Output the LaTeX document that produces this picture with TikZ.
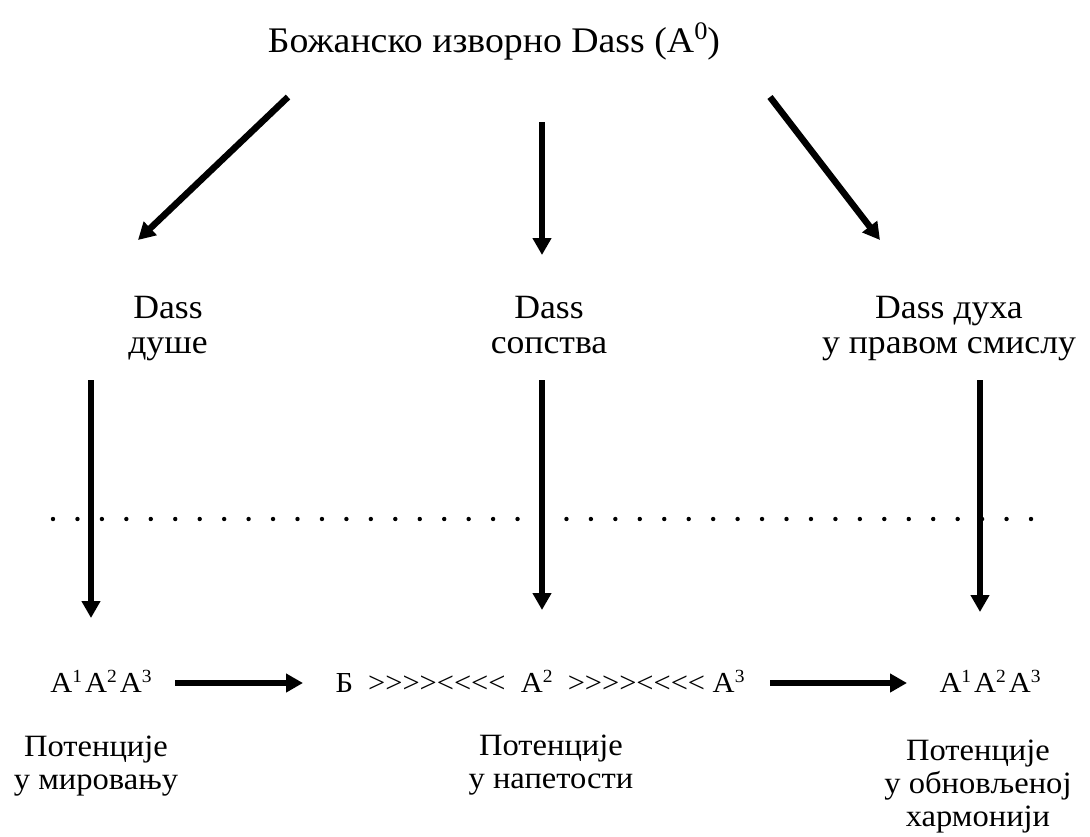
\documentclass[tikz,border=0pt]{standalone}
\usepackage{fontspec}
\setmainfont{Liberation Serif}[FakeStretch=1.05]
\usetikzlibrary{arrows.meta}
\tikzstyle{diagram} = [x = 1pt, y = -1pt]
\tikzstyle{flowArrow} = [line width=6.5pt, -{Triangle[length=17pt, width=18pt]}]
\tikzstyle{titleText} = [font=\fontsize{36}{40}\selectfont, inner sep=0pt, anchor=base]
\tikzstyle{dassText} = [font=\fontsize{34}{35}\selectfont, align=center, inner sep=0pt, anchor=north]
\tikzstyle{potText} = [font=\fontsize{31}{32.8}\selectfont, align=center, inner sep=0pt, anchor=north]
\tikzstyle{rowText} = [font=\fontsize{29}{31}\selectfont, inner sep=0pt, anchor=base]
\tikzstyle{dotMark} = [fill=black]
\newcommand{\potA}[1]{A\raisebox{0.33em}{\scalebox{0.64}{#1}}}
\newcommand{\tensionMarks}{>\kern0pt>\kern0pt>\kern0pt>\kern0pt<\kern0pt<\kern0pt<\kern0pt<}

\begin{document}
\begin{tikzpicture}[diagram]
  \useasboundingbox (0, 0) rectangle (1090, 836);

  \node[titleText] (source) at (494, 52) {Божанско изворно Dass (A\raisebox{0.36em}{\scalebox{0.7}{0}})};

  \node[dassText] (dassSoul) at (168, 296) {Dass\\душе};
  \node[dassText] (dassSelf) at (549, 296) {Dass\\сопства};
  \node[dassText] (dassSpirit) at (949, 296) {Dass духа\\у правом смислу};

  \coordinate (soulStart) at (288, 97);   \coordinate (soulEnd) at (138, 240);
  \coordinate (selfStart) at (542, 122);  \coordinate (selfEnd) at (542, 255);
  \coordinate (spiritStart) at (770, 97); \coordinate (spiritEnd) at (880, 240);
  \draw[flowArrow] (soulStart) -- (soulEnd);
  \draw[flowArrow] (selfStart) -- (selfEnd);
  \draw[flowArrow] (spiritStart) -- (spiritEnd);

  % dotted border
  \foreach \dot in {0,...,40} {
    \fill[dotMark] (53 + \dot * 24.45, 519) circle (2.2);
  }

  \coordinate (soulDown) at (91, 380);    \coordinate (soulFoot) at (91, 618);
  \coordinate (selfDown) at (542, 380);   \coordinate (selfFoot) at (542, 610);
  \coordinate (spiritDown) at (980, 380); \coordinate (spiritFoot) at (980, 612);
  \draw[flowArrow] (soulDown) -- (soulFoot);
  \draw[flowArrow] (selfDown) -- (selfFoot);
  \draw[flowArrow] (spiritDown) -- (spiritFoot);

  \node[rowText] (restPot) at (101, 692) {\potA{1}\hspace{0.1em}\potA{2}\hspace{0.1em}\potA{3}};
  \node[rowText] (tensionPot) at (540, 692) {Б\ \ \tensionMarks\ \ \potA{2}\ \ \tensionMarks\ \potA{3}};
  \node[rowText] (harmonyPot) at (990, 692) {\potA{1}\hspace{0.1em}\potA{2}\hspace{0.1em}\potA{3}};

  \coordinate (restOut) at (175, 683);    \coordinate (tensionIn) at (303, 683);
  \coordinate (tensionOut) at (770, 683); \coordinate (harmonyIn) at (907, 683);
  \draw[flowArrow] (restOut) -- (tensionIn);
  \draw[flowArrow] (tensionOut) -- (harmonyIn);

  \node[potText] (restLabel) at (96, 736) {Потенције\\у мировању};
  \node[potText] (tensionLabel) at (551, 735) {Потенције\\у напетости};
  \node[potText] (harmonyLabel) at (978, 740) {Потенције\\у обновљеној\\хармонији};
\end{tikzpicture}
\end{document}
